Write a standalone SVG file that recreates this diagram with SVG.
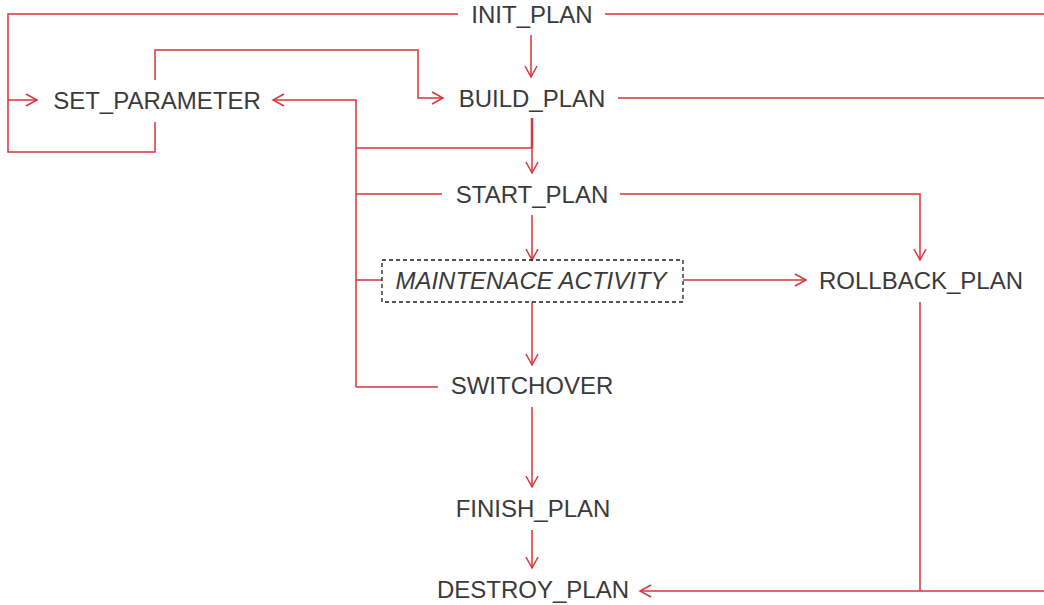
<svg xmlns="http://www.w3.org/2000/svg" width="1044" height="605" viewBox="0 0 1044 605">
<style>
.c{fill:none;stroke:#d8353c;stroke-width:1.5}
.t{font-family:"Liberation Sans",Arial,sans-serif;font-size:24px;fill:#3a3a3a;text-anchor:middle}
.i{font-style:italic}
.box{fill:none;stroke:#1e1e1e;stroke-width:1.3;stroke-dasharray:4 3}
</style>
<defs>
<marker id="a" viewBox="-12 -7 14 14" markerWidth="14" markerHeight="14" refX="0" refY="0" orient="auto" markerUnits="userSpaceOnUse">
<path d="M-11,-6 L0,0 L-11,6" fill="none" stroke="#d8353c" stroke-width="1.5"/>
</marker>
</defs>
<rect width="1044" height="605" fill="#fff"/>
<g id="connectors">
<path class="c" d="M458,14 H8 V152 H155 V122"/>
<path class="c" d="M8,100 H37" marker-end="url(#a)"/>
<path class="c" d="M605,14 H1044"/>
<path class="c" d="M531,35 V77" marker-end="url(#a)"/>
<path class="c" d="M155,80 V50 H418 V98 H443" marker-end="url(#a)"/>
<path class="c" d="M618,98 H1044"/>
<path class="c" d="M532,118 V173" marker-end="url(#a)"/>
<path class="c" d="M532,118 V148" style="stroke-width:2.5"/>
<path class="c" d="M356,148 H532"/>
<path class="c" d="M356,387 V100 H273" marker-end="url(#a)"/>
<path class="c" d="M356,194 H442"/>
<path class="c" d="M620,194 H920 V260" marker-end="url(#a)"/>
<path class="c" d="M532,215 V260" marker-end="url(#a)"/>
<path class="c" d="M356,280 H382"/>
<path class="c" d="M683,280 H806" marker-end="url(#a)"/>
<path class="c" d="M532,302 V365" marker-end="url(#a)"/>
<path class="c" d="M356,387 H438"/>
<path class="c" d="M532,407 V487" marker-end="url(#a)"/>
<path class="c" d="M532,530 V568" marker-end="url(#a)"/>
<path class="c" d="M920,302 V591"/>
<path class="c" d="M1044,591 H640" marker-end="url(#a)"/>
</g>
<g id="init_plan"><text class="t" x="532" y="23">INIT_PLAN</text></g>
<g id="set_parameter"><text class="t" x="157" y="109">SET_PARAMETER</text></g>
<g id="build_plan"><text class="t" x="532" y="107">BUILD_PLAN</text></g>
<g id="start_plan"><text class="t" x="532" y="203">START_PLAN</text></g>
<g id="maintenance_activity"><rect class="box" x="382" y="260" width="301" height="42"/><text class="t i" x="531" y="289">MAINTENACE ACTIVITY</text></g>
<g id="rollback_plan"><text class="t" x="921" y="289">ROLLBACK_PLAN</text></g>
<g id="switchover"><text class="t" x="532" y="394">SWITCHOVER</text></g>
<g id="finish_plan"><text class="t" x="533" y="517">FINISH_PLAN</text></g>
<g id="destroy_plan"><text class="t" x="533" y="598">DESTROY_PLAN</text></g>
</svg>
